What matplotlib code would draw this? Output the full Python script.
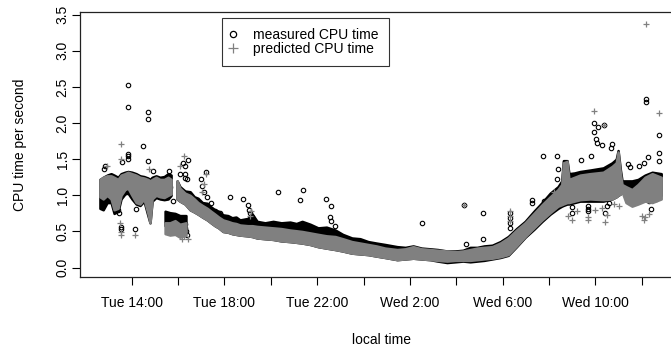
import numpy as np
import matplotlib
matplotlib.use("Agg")
import matplotlib.pyplot as plt
from matplotlib.lines import Line2D

plt.rcParams['font.family'] = ['Liberation Sans', 'DejaVu Sans']

# time axis: hours since Tuesday 00:00
tick_hours = [14, 16, 18, 20, 22, 24, 26, 28, 30, 32, 34, 36]
tick_labels = ['Tue 14:00', '', 'Tue 18:00', '', 'Tue 22:00', '',
               'Wed 2:00', '', 'Wed 6:00', '', 'Wed 10:00', '']
ytick_vals = [0.0, 0.5, 1.0, 1.5, 2.0, 2.5, 3.0, 3.5]

# dense part of the cloud, read as envelopes (lo/hi) per segment
# segment A: early afternoon block
t_a = [12.63, 12.77, 12.94, 13.11, 13.24, 13.41, 13.54, 13.71, 13.84, 14.01, 14.19,
       14.36, 14.53, 14.70, 14.79, 14.88, 15.05, 15.22, 15.40, 15.57, 15.70]
pred_a_lo = [0.98, 0.95, 1.00, 0.95, 0.80, 0.82, 1.00, 1.08, 1.10, 1.00, 0.90,
             0.88, 0.95, 0.75, 0.62, 0.95, 1.00, 0.98, 0.97, 1.00, 1.02]
pred_a_hi = [1.22, 1.25, 1.27, 1.27, 1.25, 1.22, 1.28, 1.30, 1.32, 1.30, 1.28,
             1.25, 1.24, 1.22, 1.20, 1.22, 1.25, 1.22, 1.22, 1.25, 1.22]
meas_a_lo = [0.82, 0.80, 0.90, 0.90, 0.75, 0.78, 0.95, 1.02, 1.03, 0.95, 0.88,
             0.86, 0.92, 0.72, 0.62, 0.92, 0.97, 0.95, 0.94, 0.95, 1.00]
meas_a_hi = [1.22, 1.25, 1.28, 1.30, 1.28, 1.25, 1.30, 1.32, 1.33, 1.32, 1.30,
             1.27, 1.26, 1.24, 1.22, 1.25, 1.27, 1.25, 1.26, 1.30, 1.28]

# segment B: low block around 16:00
t_b = [15.44, 15.65, 15.87, 16.08, 16.34]
pred_b_lo = [0.47, 0.45, 0.46, 0.42, 0.45]
pred_b_hi = [0.62, 0.62, 0.65, 0.60, 0.62]
meas_b_lo = [0.58, 0.58, 0.58, 0.50, 0.48]
meas_b_hi = [0.78, 0.76, 0.75, 0.72, 0.72]

# segment C: evening decay, night, morning rise
t_c = [15.96, 16.08, 16.30, 16.52, 16.70, 16.86, 17.05, 17.26, 17.42, 17.59,
       17.75, 17.94, 18.15, 18.33, 18.50, 18.67, 19.00, 19.20, 19.41, 19.75,
       20.10, 20.45, 20.83, 21.10, 21.35, 21.70, 22.04, 22.40, 22.78, 23.10,
       23.50, 23.85, 24.20, 24.55, 24.93, 25.45, 25.80, 26.14, 26.50, 26.87,
       27.20, 27.60, 27.95, 28.29, 28.60, 28.90, 29.20, 29.55, 29.90, 30.24,
       30.60, 30.97, 31.35, 31.70, 32.05, 32.39, 32.55, 32.62, 32.78, 32.86,
       33.10, 33.34, 33.77, 34.34, 34.72, 34.90, 34.98, 35.08, 35.15, 35.32,
       35.58, 35.84, 36.14, 36.45, 36.84]
pred_c_lo = [0.95, 0.92, 0.88, 0.80, 0.77, 0.74, 0.70, 0.66, 0.62, 0.58,
             0.55, 0.50, 0.49, 0.47, 0.46, 0.45, 0.44, 0.43, 0.41, 0.40,
             0.39, 0.37, 0.36, 0.35, 0.34, 0.32, 0.29, 0.27, 0.25, 0.23,
             0.20, 0.19, 0.18, 0.16, 0.14, 0.11, 0.12, 0.13, 0.12, 0.11,
             0.10, 0.09, 0.10, 0.10, 0.10, 0.11, 0.12, 0.13, 0.15, 0.18,
             0.30, 0.43, 0.55, 0.66, 0.76, 0.85, 0.87, 0.88, 0.90, 0.90,
             0.92, 0.94, 0.95, 0.94, 0.95, 0.98, 1.00, 1.02, 1.05, 0.90,
             0.85, 0.88, 0.92, 0.90, 0.95]
pred_c_hi = [1.20, 1.10, 1.03, 1.00, 0.95, 0.90, 0.86, 0.82, 0.78, 0.74,
             0.70, 0.66, 0.64, 0.62, 0.61, 0.59, 0.58, 0.58, 0.57, 0.56,
             0.55, 0.54, 0.52, 0.51, 0.50, 0.48, 0.46, 0.44, 0.43, 0.40,
             0.36, 0.34, 0.32, 0.30, 0.27, 0.25, 0.26, 0.29, 0.26, 0.25,
             0.24, 0.23, 0.22, 0.23, 0.25, 0.27, 0.28, 0.29, 0.34, 0.41,
             0.52, 0.62, 0.75, 0.87, 0.98, 1.08, 1.15, 1.45, 1.47, 1.22,
             1.25, 1.28, 1.30, 1.32, 1.40, 1.45, 1.60, 1.30, 1.15, 1.12,
             1.08, 1.15, 1.25, 1.30, 1.25]
meas_c_lo = [0.95, 0.92, 0.88, 0.80, 0.77, 0.74, 0.70, 0.66, 0.62, 0.58,
             0.55, 0.50, 0.49, 0.47, 0.46, 0.45, 0.44, 0.43, 0.41, 0.40,
             0.39, 0.37, 0.36, 0.35, 0.34, 0.32, 0.29, 0.27, 0.25, 0.23,
             0.20, 0.19, 0.18, 0.16, 0.14, 0.11, 0.12, 0.13, 0.12, 0.11,
             0.09, 0.07, 0.08, 0.09, 0.08, 0.09, 0.10, 0.12, 0.14, 0.17,
             0.29, 0.42, 0.53, 0.64, 0.74, 0.82, 0.85, 0.86, 0.88, 0.88,
             0.90, 0.92, 0.92, 0.92, 0.95, 0.98, 1.00, 1.02, 1.05, 0.98,
             0.95, 0.95, 0.95, 0.95, 1.00]
meas_c_hi = [1.20, 1.12, 1.06, 1.05, 0.98, 0.96, 0.90, 0.89, 0.84, 0.80,
             0.78, 0.73, 0.72, 0.69, 0.70, 0.66, 0.68, 0.74, 0.64, 0.62,
             0.64, 0.62, 0.63, 0.61, 0.64, 0.60, 0.55, 0.56, 0.52, 0.46,
             0.41, 0.40, 0.36, 0.34, 0.32, 0.29, 0.28, 0.30, 0.27, 0.26,
             0.25, 0.23, 0.23, 0.24, 0.28, 0.28, 0.30, 0.31, 0.36, 0.43,
             0.54, 0.64, 0.78, 0.90, 1.03, 1.12, 1.20, 1.48, 1.48, 1.30,
             1.31, 1.33, 1.35, 1.38, 1.45, 1.50, 1.62, 1.35, 1.20, 1.20,
             1.20, 1.22, 1.28, 1.32, 1.30]

# isolated measured points
meas_out_t = [12.85, 12.80, 13.60, 13.84, 13.84, 13.84, 13.84, 13.84, 14.47, 14.72, 14.72,
              14.72, 13.53, 13.53, 14.13, 13.40, 13.45, 14.20, 14.90, 15.60, 15.78, 15.65,
              16.08, 16.20, 16.30, 16.30, 16.30, 16.44, 16.40, 16.28, 16.28, 16.35, 16.40,
              17.19, 17.00, 17.03, 17.10, 17.25, 17.40, 17.60, 17.80,
              18.24, 18.81, 19.00, 19.05, 19.10, 19.20,
              20.30, 21.38, 21.27, 22.37, 22.58, 22.56, 22.60, 22.75,
              26.51, 28.34, 29.17, 29.15, 28.40,
              30.33, 30.33, 30.33, 30.33,
              31.25, 31.25, 31.76, 32.33, 31.80, 32.40, 32.35,
              33.00, 33.00, 33.67, 33.67, 33.67, 33.94, 34.13, 34.39, 33.96, 34.03,
              34.07, 34.30, 34.70, 34.68, 34.42, 34.50, 34.60,
              33.40, 33.80, 34.90, 35.40, 35.50, 35.90, 36.10, 36.19, 36.19, 36.76,
              36.76, 36.76, 36.25, 36.40, 36.30, 36.60]
meas_out_v = [1.41, 1.37, 1.46, 2.53, 2.22, 1.57, 1.54, 1.50, 1.68, 2.16, 2.06,
              1.47, 0.56, 0.54, 0.53, 0.80, 0.76, 0.81, 1.34, 1.33, 0.92, 1.12,
              1.30, 1.45, 1.40, 1.30, 1.24, 1.49, 1.22, 0.60, 0.55, 0.50, 0.45,
              1.32, 1.22, 1.13, 1.05, 0.98, 0.90, 0.78, 0.75,
              0.98, 0.95, 0.86, 0.80, 0.75, 0.70,
              1.04, 1.07, 0.93, 0.95, 0.85, 0.70, 0.65, 0.58,
              0.62, 0.86, 0.76, 0.40, 0.33,
              0.75, 0.68, 0.62, 0.55,
              0.94, 0.90, 1.54, 1.55, 0.92, 1.36, 1.22,
              0.84, 0.76, 0.85, 0.81, 0.78, 2.00, 1.94, 1.97, 1.87, 1.78,
              1.73, 1.69, 1.71, 1.66, 0.76, 0.85, 0.90,
              1.49, 1.55, 1.45, 1.43, 1.39, 1.40, 1.45, 2.34, 2.29, 1.84,
              1.59, 1.48, 1.53, 0.81, 0.92, 0.95]

# isolated predicted points
pred_out_t = [13.53, 13.53, 13.53, 13.50, 14.13, 14.75, 13.55, 12.95,
              16.27, 16.08, 16.16, 16.44, 16.25, 17.20, 17.10, 17.05, 19.10, 19.15,
              28.34, 30.33, 30.33, 30.33,
              33.94, 36.76, 36.19, 34.39, 33.00, 33.67, 33.67, 34.42, 34.50,
              36.10, 36.15, 36.30, 36.00, 32.80, 33.20, 34.00, 34.30, 34.80, 35.00, 32.20]
pred_out_v = [1.71, 0.45, 0.49, 0.62, 0.45, 1.37, 1.50, 1.40,
              1.55, 1.41, 0.40, 0.40, 0.44, 1.30, 1.15, 1.05, 0.72, 0.78,
              0.87, 0.78, 0.72, 0.65,
              2.17, 2.14, 3.37, 1.98, 0.66, 0.70, 0.66, 0.63, 0.73,
              0.66, 0.70, 0.74, 0.72, 0.72, 0.78, 0.80, 0.82, 0.88, 0.85, 1.05]

GRAY = '#808080'

fig = plt.figure(figsize=(6.71, 3.48), dpi=100)
ax = fig.add_axes([80 / 671, 71 / 348, 603 / 671, 265 / 348])

segments = [
    (t_a, pred_a_lo, pred_a_hi, meas_a_lo, meas_a_hi),
    (t_b, pred_b_lo, pred_b_hi, meas_b_lo, meas_b_hi),
    (t_c, pred_c_lo, pred_c_hi, meas_c_lo, meas_c_hi),
]

# measured first (black), then predicted on top (gray)
for t, plo, phi, mlo, mhi in segments:
    ax.fill_between(t, mlo, mhi, color='black', linewidth=1.8, zorder=2)
ax.plot(meas_out_t, meas_out_v, 'o', linestyle='none', mfc='none', mec='black',
        ms=3.2, mew=0.8, zorder=3)
for t, plo, phi, mlo, mhi in segments:
    ax.fill_between(t, plo, phi, color=GRAY, linewidth=1.8, zorder=4)
ax.plot(pred_out_t, pred_out_v, '+', linestyle='none', color=GRAY,
        ms=5, mew=0.9, zorder=5)

ax.set_xlim(11.77, 37.78)
ax.set_ylim(-0.13, 3.537)
ax.set_xticks(tick_hours)
ax.set_xticklabels(tick_labels, fontsize=10)
ax.set_yticks(ytick_vals)
ax.set_yticklabels(['%.1f' % v for v in ytick_vals], fontsize=10,
                   rotation=90, va='center')
ax.tick_params(axis='x', direction='out', length=6, width=0.8, pad=8)
ax.tick_params(axis='y', direction='out', length=5.5, width=0.8, pad=2)
for s in ax.spines.values():
    s.set_linewidth(0.9)
    s.set_color('#222222')

ax.set_xlabel('local time', fontsize=10)
ax.xaxis.set_label_coords(0.5, -0.212)
ax.set_ylabel('CPU time per second', fontsize=10)
ax.yaxis.set_label_coords(-0.088, 0.5)

handles = [
    Line2D([], [], marker='o', linestyle='none', mfc='none', mec='black',
           ms=4.5, mew=0.9, label='measured CPU time'),
    Line2D([], [], marker='+', linestyle='none', color=GRAY,
           ms=7, mew=0.9, label='predicted CPU time'),
]
leg = ax.legend(handles=handles, loc='upper left',
                bbox_to_anchor=(221.7 / 671, 1 - 17.7 / 348),
                bbox_transform=fig.transFigure, borderaxespad=0,
                fontsize=10, frameon=True, fancybox=False, shadow=False,
                borderpad=0.73, handlelength=0.1, handletextpad=1.44,
                labelspacing=0.02)
leg.get_frame().set_edgecolor('black')
leg.get_frame().set_linewidth(0.8)

fig.savefig('out.png', dpi=100)
